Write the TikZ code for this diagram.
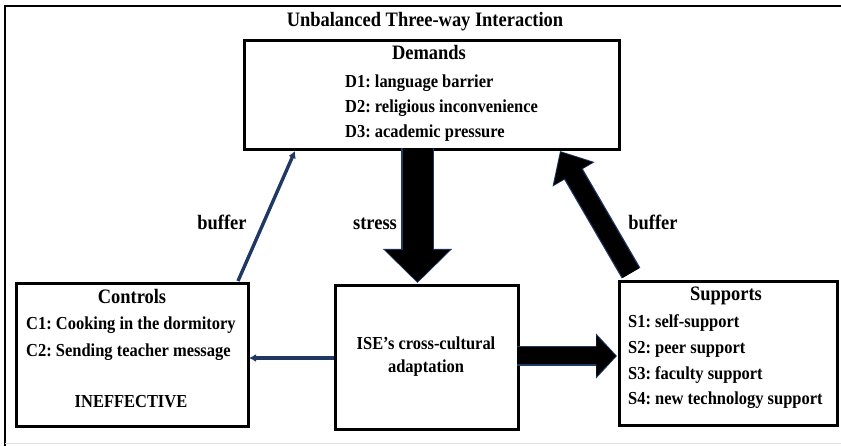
\documentclass[tikz,border=0pt]{standalone}
\usepackage{fontspec}
\setmainfont{Liberation Serif}[FakeStretch=0.9]
\usetikzlibrary{arrows.meta}
\definecolor{navy}{HTML}{1F3864}
\frenchspacing
\begin{document}
\begin{tikzpicture}[x=1pt,y=-1pt,
  box/.style={draw,line width=3pt,inner sep=0pt,anchor=north west},
  hdr/.style={font=\fontsize{20.5}{22}\selectfont\bfseries,inner sep=0pt,anchor=base},
  item/.style={font=\fontsize{18.3}{20}\selectfont\bfseries,inner sep=0pt,anchor=base west},
  itemc/.style={font=\fontsize{18.3}{20}\selectfont\bfseries,inner sep=0pt,anchor=base},
  thinarrow/.style={draw=navy,line width=3.4pt,-{Latex[length=7pt,width=8pt]}}]
\useasboundingbox (0,0) rectangle (841,446);
\fill[white] (0,0) rectangle (841,446);
% frame
\draw[line width=2.5pt] (5,446) -- (5,6) -- (841,6);
\draw[black!12,line width=1pt] (5,443.5) -- (841,443.5);
% title
\node[hdr] (title) at (425,26.5) {Unbalanced Three-way Interaction};
% boxes
\node[box,minimum width=375pt,minimum height=109pt] (D) at (243,39) {};
\node[box,minimum width=232pt,minimum height=143pt] (C) at (15,282) {};
\node[box,minimum width=183pt,minimum height=144pt] (I) at (334,284) {};
\node[box,minimum width=218pt,minimum height=144pt] (S) at (618,280) {};
% Demands text
\node[hdr] (Dt) at (429,59.5) {Demands};
\node[item] (D1) at (345,88) {D1: language barrier};
\node[item] (D2) at (345,113) {D2: religious inconvenience};
\node[item] (D3) at (345,138) {D3: academic pressure};
% Controls text
\node[hdr] (Ct) at (132,303.5) {Controls};
\node[item] (C1) at (26,330) {C1: Cooking in the dormitory};
\node[item] (C2) at (26,356) {C2: Sending teacher message};
\node[itemc] (C3) at (131,407) {INEFFECTIVE};
% ISE text
\node[itemc] (I1) at (426,349) {ISE’s cross-cultural};
\node[itemc] (I2) at (426,373) {adaptation};
% Supports text
\node[hdr] (St) at (726,300.5) {Supports};
\node[item] (S1) at (628,328) {S1: self-support};
\node[item] (S2) at (628,354) {S2: peer support};
\node[item] (S3) at (628,379) {S3: faculty support};
\node[item] (S4) at (628,404) {S4: new technology support};
% labels
\node[hdr] (lb1) at (222,229.5) {buffer};
\node[hdr] (lst) at (375,229.5) {stress};
\node[hdr] (lb2) at (653,229.5) {buffer};
% connector coordinates
\coordinate (st1) at (417.5,148);
\coordinate (st2) at (417.5,283);
\coordinate (is1) at (517,356);
\coordinate (is2) at (617,356);
\coordinate (sb1) at (631,273);
\coordinate (sb2) at (560,151);
\coordinate (cb1) at (238,281);
\coordinate (cb2) at (295,151);
\coordinate (ic1) at (334,358);
\coordinate (ic2) at (249,358);
% fat arrows
\draw[navy,line width=32.5pt,-{Triangle[length=34pt,width=67pt]}] (st1) -- (st2);
\draw[black,line width=30pt,-{Triangle[length=32pt,width=63pt]},shorten >=1.2pt] (st1) -- (st2);
\draw[navy,line width=19.5pt,-{Triangle[length=21pt,width=44pt]}] (is1) -- (is2);
\draw[black,line width=17pt,-{Triangle[length=19.5pt,width=40pt]},shorten >=1.2pt] (is1) -- (is2);
\draw[navy,line width=21.5pt,-{Triangle[length=27pt,width=47pt]}] (sb1) -- (sb2);
\draw[black,line width=19pt,-{Triangle[length=25pt,width=43pt]},shorten >=1.2pt] (sb1) -- (sb2);
% thin arrows
\draw[thinarrow] (cb1) -- (cb2);
\draw[thinarrow] (ic1) -- (ic2);
\end{tikzpicture}
\end{document}
